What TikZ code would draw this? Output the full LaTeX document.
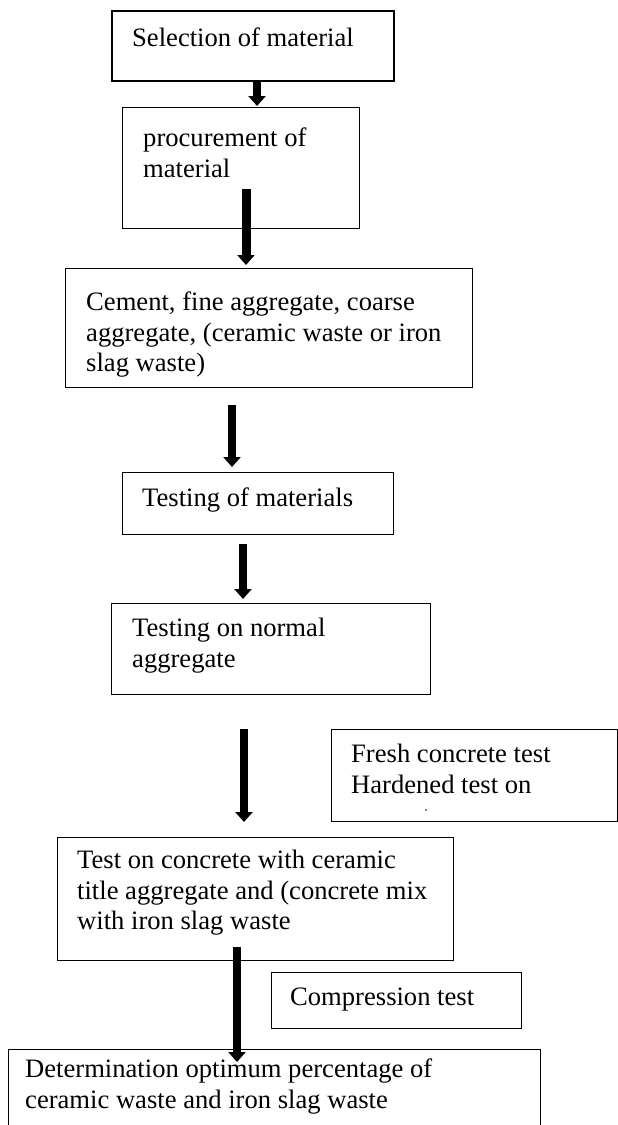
\documentclass[tikz,border=0pt]{standalone}
\usepackage{fontspec}
\setmainfont{Liberation Serif}
\usetikzlibrary{arrows.meta}

\begin{document}
\begin{tikzpicture}[x=1pt, y=-1pt,
		box/.style={draw, line width=1.3pt, inner sep=0pt, anchor=north west},
		txt/.style={anchor=north west, inner sep=0pt, align=left, font=\fontsize{26.6}{30.5}\selectfont},
		flow/.style={line width=7.5pt, -{Triangle[width=17pt,length=10pt]}}]
			\useasboundingbox (0,0) rectangle (618,1125);
			\node [box, line width=2.3pt, minimum width=282pt, minimum height=70pt] (sel) at (111,10) {};
			\node [box, minimum width=237pt, minimum height=121pt] (proc) at (122,107) {};
			\node [box, minimum width=407pt, minimum height=119pt] (mat) at (65,268) {};
			\node [box, minimum width=271pt, minimum height=62pt] (test) at (122,472) {};
			\node [box, minimum width=319pt, minimum height=91pt] (norm) at (111,603) {};
			\node [box, minimum width=286pt, minimum height=92pt] (fresh) at (331,729) {};
			\node [box, minimum width=396pt, minimum height=123pt] (conc) at (57,837) {};
			\node [box, minimum width=250pt, minimum height=56pt] (comp) at (271,972) {};
			\node [box, minimum width=532pt, minimum height=100pt] (opt) at (8,1049) {};
			\node [txt] (selT) at (132,28) {Selection of material};
			\node [txt] (procT) at (143,128) {procurement of\\material};
			\node [txt] (matT) at (86,292) {Cement, fine aggregate, coarse\\aggregate, (ceramic waste or iron\\slag waste)};
			\node [txt] (testT) at (142,488) {Testing of materials};
			\node [txt] (normT) at (132,618) {Testing on normal\\aggregate};
			\node [txt] (freshT) at (351,744) {Fresh concrete test\\Hardened test on};
			\node [txt] (concT) at (77,850) {Test on concrete with ceramic\\title aggregate and (concrete mix\\with iron slag waste};
			\node [txt] (compT) at (290,988) {Compression test};
			\node [txt] (optT) at (25,1059) {Determination optimum percentage of\\ceramic waste and iron slag waste};
			\fill (426,810) circle (0.8);
			\coordinate (a1) at (257,0);
			\coordinate (a2) at (246,0);
			\coordinate (a3) at (232,0);
			\coordinate (a4) at (243,0);
			\coordinate (a5) at (244,0);
			\coordinate (a6) at (237,0);
			\draw [flow, shorten >=1pt] (sel.south -| a1) -- (proc.north -| a1);
			\draw [flow, line width=9pt, shorten <=-40pt, shorten >=3pt] (proc.south -| a2) -- (mat.north -| a2);
			\draw [flow, shorten <=17pt, shorten >=5pt] (mat.south -| a3) -- (test.north -| a3);
			\draw [flow, shorten <=9pt, shorten >=4pt] (test.south -| a4) -- (norm.north -| a4);
			\draw [flow, shorten <=34pt, shorten >=15pt] (norm.south -| a5) -- (conc.north -| a5);
			\draw [flow, shorten <=-14pt, shorten >=-13pt] (conc.south -| a6) -- (opt.north -| a6);
		\end{tikzpicture}
\end{document}
